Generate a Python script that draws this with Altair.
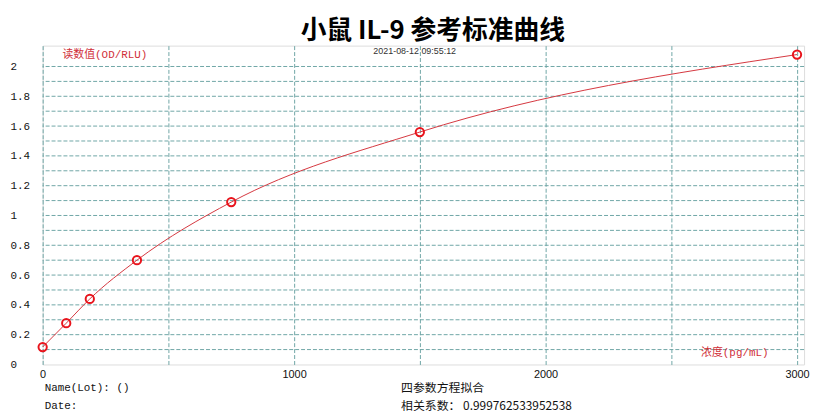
import altair as alt
import pandas as pd

# ---- data ----
concentration = [0, 93.75, 187.5, 375, 750, 1500, 3000]
od_value = [0.117, 0.277, 0.44, 0.70, 1.09, 1.56, 2.08]
x_grid_values = [0, 500, 1000, 1500, 2000, 2500, 3000]
y_label_values = [0, 0.2, 0.4, 0.6, 0.8, 1.0, 1.2, 1.4, 1.6, 1.8, 2.0]
y_grid_values = [0.1, 0.2, 0.3, 0.4, 0.5, 0.6, 0.7, 0.8, 0.9, 1.0,
                 1.1, 1.2, 1.3, 1.4, 1.5, 1.6, 1.7, 1.8, 1.9, 2.0]

title_text = "小鼠 IL-9 参考标准曲线"
timestamp_text = "2021-08-12 09:55:12"
y_title_text = "读数值(OD/RLU)"
x_title_text = "浓度(pg/mL)"
name_text = "Name(Lot):  ()"
date_text = "Date:"
method_text = "四参数方程拟合"
corr_text = "相关系数：  0.999762533952538"

df = pd.DataFrame({"conc": concentration, "od": od_value})
grid_df = pd.DataFrame({"od": y_grid_values})

GRID = "#6fa6a6"
RED_TXT = "#d0303a"
CJK = "Noto Sans CJK SC"
MONO = "Liberation Mono, Noto Sans CJK SC"

x_enc = alt.X(
    "conc:Q",
    scale=alt.Scale(domain=[0, 3028], nice=False, zero=False),
    axis=alt.Axis(
        values=x_grid_values, format="d",
        labelExpr="datum.value % 1000 == 0 ? datum.label : ''",
        grid=True, gridColor=GRID, gridDash=[4, 2], gridWidth=1,
        ticks=False, domain=False, title=None, labelOverlap=False,
        labelFont="Liberation Sans", labelFontSize=11, labelColor="#111",
        labelPadding=4, labelFlush=False,
    ),
)
y_scale = alt.Scale(domain=[0, 2.14], nice=False, zero=True)
y_axis = alt.Axis(
    values=y_label_values, format=".1~f",
    grid=False, labelOverlap=False,
    ticks=False, domain=False, title=None,
    labelAlign="left", labelPadding=33, labelBaseline="middle",
    labelFont="Liberation Mono", labelFontSize=11, labelColor="#111",
    labelFlush=False,
)
y_enc = alt.Y("od:Q", scale=y_scale, axis=y_axis)

hgrid = alt.Chart(grid_df).mark_rule(color=GRID, strokeDash=[4, 2], strokeWidth=1).encode(
    y=y_enc
)

base = alt.Chart(df)
curve = base.mark_line(interpolate="monotone", color="#d4373f", strokeWidth=1).encode(x=x_enc, y=y_enc)
points = base.mark_point(shape="circle", filled=False, color="#e8141c",
                         strokeWidth=2, size=70, opacity=1).encode(x=x_enc, y=y_enc)


def txt(s, x, y, align="left", **kw):
    return alt.Chart(alt.Data(values=[{}])).mark_text(
        text=s, align=align, baseline="middle", **kw
    ).encode(x=alt.value(x), y=alt.value(y))


texts = [
    txt(title_text, 394, -15, align="center", font=CJK, fontSize=26, fontWeight="bold", color="#000"),
    txt(timestamp_text, 334, 5, font="Liberation Sans", fontSize=9, color="#333"),
    txt(y_title_text, 20, 9, font=MONO, fontSize=11, color=RED_TXT),
    txt(x_title_text, 665, 310, font=MONO, fontSize=11, color=RED_TXT),
    txt(name_text, 2, 346, font=MONO, fontSize=11, color="#111"),
    txt(date_text, 2, 364, font=MONO, fontSize=11, color="#111"),
    txt(method_text, 362, 346, font=CJK, fontSize=12, color="#111"),
    txt(corr_text, 362, 364, font=CJK, fontSize=12, color="#111"),
]

chart = alt.layer(hgrid, curve, points, *texts).properties(
    width=769, height=322,
    autosize=alt.AutoSizeParams(type="none"),
    padding={"left": 35, "top": 36, "right": 7, "bottom": 46},
).configure_view(stroke="#222", strokeWidth=1.2).configure(background="white")

chart.save("out.html", embed_options={"renderer": "svg", "actions": False})
